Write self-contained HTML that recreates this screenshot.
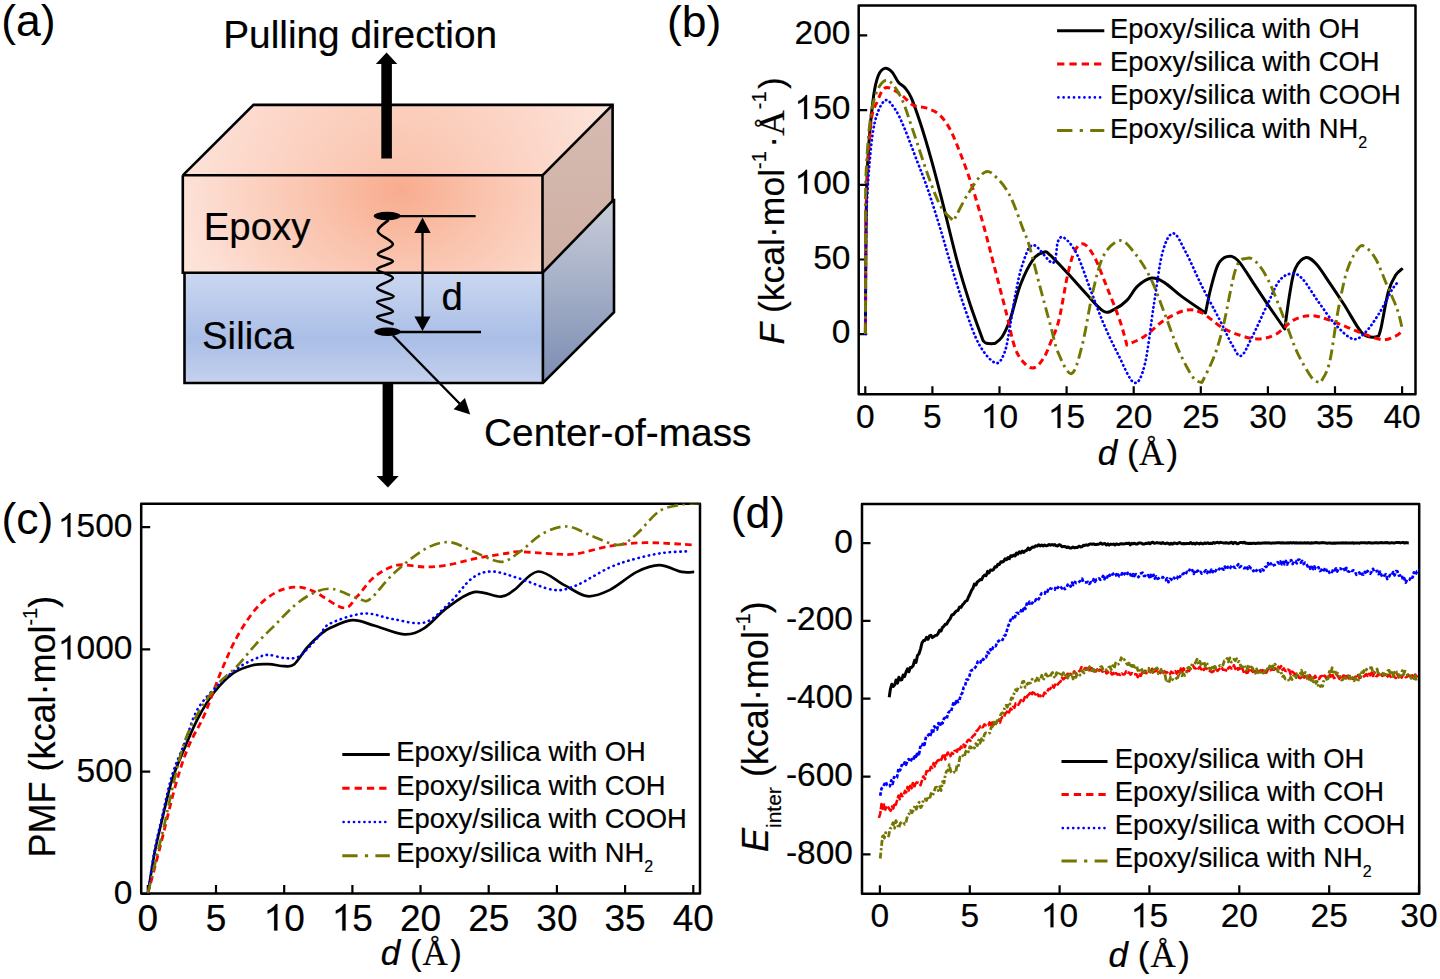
<!DOCTYPE html>
<html><head><meta charset="utf-8"><title>Figure</title>
<style>html,body{margin:0;padding:0;background:#fff;width:1440px;height:979px;overflow:hidden}
svg{display:block} text{font-family:"Liberation Sans", sans-serif}</style></head>
<body><svg width="1440" height="979" viewBox="0 0 1440 979">
<rect width="1440" height="979" fill="#fff"/>
<defs>
<radialGradient id="epF" cx="400" cy="190" r="220" gradientUnits="userSpaceOnUse" gradientTransform="translate(400 190) scale(1 0.8) translate(-400 -190)">
  <stop offset="0" stop-color="#f8ac8e"/>
  <stop offset="0.4" stop-color="#fac4ae"/>
  <stop offset="1" stop-color="#fde2d8"/>
</radialGradient>
<radialGradient id="epT" cx="400" cy="200" r="260" gradientUnits="userSpaceOnUse">
  <stop offset="0" stop-color="#f9c0a8"/>
  <stop offset="0.5" stop-color="#fcd4c5"/>
  <stop offset="1" stop-color="#fde9e2"/>
</radialGradient>
<linearGradient id="epR" x1="0" y1="0" x2="0" y2="1">
  <stop offset="0" stop-color="#d6bbb1"/>
  <stop offset="1" stop-color="#cfafa4"/>
</linearGradient>
<linearGradient id="siF" x1="0" y1="273" x2="0" y2="383" gradientUnits="userSpaceOnUse">
  <stop offset="0" stop-color="#cad7f0"/>
  <stop offset="0.6" stop-color="#aabee6"/>
  <stop offset="1" stop-color="#c4d1ee"/>
</linearGradient>
<linearGradient id="siR" x1="0" y1="200" x2="0" y2="383" gradientUnits="userSpaceOnUse">
  <stop offset="0" stop-color="#c9cdd9"/>
  <stop offset="1" stop-color="#7b8db3"/>
</linearGradient>
</defs>
<polygon points="184.5,272.7 542.7,272.7 613.3,200 614,200 614,312.2 542.9,383 184.5,383" fill="url(#siF)"/>
<polygon points="542.7,272.7 613.3,200 614,200 614,312.2 542.9,383" fill="url(#siR)"/>
<polygon points="182.8,175.3 542.5,175.3 542.5,272.7 182.8,272.7" fill="url(#epF)"/>
<polygon points="182.8,175.3 253.5,104.9 612.6,104.9 542.5,175.3" fill="url(#epT)"/>
<polygon points="542.5,175.3 612.6,104.9 612.6,200.7 542.7,272.7" fill="url(#epR)"/>
<g fill="none" stroke="#000" stroke-width="2.6" stroke-linejoin="miter">
<polyline points="182.8,175.3 253.5,104.9 612.6,104.9 612.6,200.7"/>
<line x1="182.8" y1="175.3" x2="542.5" y2="175.3"/>
<line x1="542.5" y1="175.3" x2="612.6" y2="104.9"/>
<line x1="542.5" y1="175.3" x2="542.5" y2="272.7"/>
<polyline points="182.8,175.3 182.8,272.7 184.5,272.7 184.5,383 542.9,383 614,312.2 614,200 613.3,200 542.7,272.7 182.8,272.7"/>
<line x1="542.9" y1="272.7" x2="542.9" y2="383"/>
</g>
<rect x="381.3" y="62" width="10.6" height="96.5" fill="#000"/>
<polygon points="386.6,52.5 375.8,64 397.3,64" fill="#000"/>
<rect x="382.6" y="383" width="10.6" height="94" fill="#000"/>
<polygon points="387.9,487.5 376.6,476 398.7,476" fill="#000"/>
<path d="M388.6,220.0 C386.8,221.9 377.2,227.3 377.9,231.4 C378.6,235.5 392.9,240.5 392.9,244.3 C392.9,248.1 377.9,251.5 377.9,254.3 C377.9,257.1 393.0,258.9 392.9,261.4 C392.8,263.9 377.1,266.6 377.1,269.3 C377.1,272.1 392.9,274.8 392.9,277.9 C392.9,281.0 377.0,284.8 377.1,287.9 C377.2,291.0 393.6,294.0 393.6,296.4 C393.6,298.8 377.2,299.6 377.1,302.1 C377.0,304.6 392.9,308.9 392.9,311.4 C392.9,313.9 377.0,315.0 377.1,317.1 C377.2,319.2 390.9,323.1 393.6,324.3" fill="none" stroke="#000" stroke-width="2.6"/>
<ellipse cx="387.2" cy="216" rx="13.5" ry="4.2" fill="#000"/>
<ellipse cx="387.5" cy="331.7" rx="13.2" ry="4.2" fill="#000"/>
<line x1="398" y1="216.1" x2="475.6" y2="216.1" stroke="#000" stroke-width="2.3"/>
<line x1="398" y1="332" x2="481" y2="332" stroke="#000" stroke-width="2.3"/>
<line x1="422.5" y1="228" x2="422.5" y2="320" stroke="#000" stroke-width="2.3"/>
<polygon points="422.5,217.5 414.4,233 430.6,233" fill="#000"/>
<polygon points="422.5,331 414.4,316.4 430.6,316.4" fill="#000"/>
<line x1="393" y1="335.5" x2="462" y2="406" stroke="#000" stroke-width="2.4"/>
<polygon points="470.2,414.5 453.6,409.2 464.9,397.9" fill="#000"/>
<g font-family='"Liberation Sans", sans-serif' fill="#000" stroke="#000" stroke-width="0.2">
<text x="1.3" y="35.6" font-size="44.5" stroke-width="0">(a)</text>
<text x="223.2" y="47.5" font-size="38.8" >Pulling direction</text>
<text x="203.7" y="240.2" font-size="38.4" >Epoxy</text>
<text x="202.0" y="349.0" font-size="38.4" >Silica</text>
<text x="441.5" y="309.5" font-size="38.4" >d</text>
<text x="484.1" y="445.7" font-size="38.8" >Center-of-mass</text>
</g>
<rect x="858.7" y="5.5" width="556.8" height="388.7" fill="none" stroke="#000" stroke-width="2.5" stroke-linejoin="round"/>
<path d="M865.3,394.2 L865.3,386.2 M932.4,394.2 L932.4,386.2 M999.5,394.2 L999.5,386.2 M1066.6,394.2 L1066.6,386.2 M1133.7,394.2 L1133.7,386.2 M1200.8,394.2 L1200.8,386.2 M1267.9,394.2 L1267.9,386.2 M1335.0,394.2 L1335.0,386.2 M1402.1,394.2 L1402.1,386.2 M858.7,334.2 L867.2,334.2 M858.7,259.5 L867.2,259.5 M858.7,184.8 L867.2,184.8 M858.7,110.1 L867.2,110.1 M858.7,35.4 L867.2,35.4" stroke="#000" stroke-width="2.2" fill="none"/>
<g font-family='"Liberation Sans", sans-serif' fill="#000" stroke="#000" stroke-width="0.2">
<text x="855.98" y="428.0" font-size="33.5">0</text>
<text x="923.08" y="428.0" font-size="33.5">5</text>
<text x="980.87" y="428.0" font-size="33.5"> 0</text>
<polygon points="990.41,428.00 990.41,409.24 989.34,410.25 987.58,411.28 985.86,412.26 984.52,412.79 984.52,409.94 986.92,408.78 989.70,406.74 991.44,404.94 991.99,404.02 993.35,404.02 993.35,428.00"/>
<text x="1047.97" y="428.0" font-size="33.5"> 5</text>
<polygon points="1057.51,428.00 1057.51,409.24 1056.44,410.25 1054.68,411.28 1052.96,412.26 1051.62,412.79 1051.62,409.94 1054.02,408.78 1056.80,406.74 1058.54,404.94 1059.09,404.02 1060.45,404.02 1060.45,428.00"/>
<text x="1115.07" y="428.0" font-size="33.5">20</text>
<text x="1182.17" y="428.0" font-size="33.5">25</text>
<text x="1249.27" y="428.0" font-size="33.5">30</text>
<text x="1316.37" y="428.0" font-size="33.5">35</text>
<text x="1383.47" y="428.0" font-size="33.5">40</text>
<text x="831.87" y="343.2" font-size="33.5">0</text>
<text x="813.24" y="268.5" font-size="33.5">50</text>
<text x="794.61" y="193.8" font-size="33.5"> 00</text>
<polygon points="804.14,193.80 804.14,175.04 803.08,176.05 801.31,177.08 799.60,178.06 798.25,178.59 798.25,175.74 800.66,174.58 803.44,172.54 805.17,170.74 805.73,169.82 807.09,169.82 807.09,193.80"/>
<text x="794.61" y="119.1" font-size="33.5"> 50</text>
<polygon points="804.14,119.10 804.14,100.34 803.08,101.35 801.31,102.38 799.60,103.36 798.25,103.89 798.25,101.04 800.66,99.88 803.44,97.84 805.17,96.04 805.73,95.12 807.09,95.12 807.09,119.10"/>
<text x="794.61" y="44.4" font-size="33.5">200</text>
<text x="667.0" y="36.8" font-size="44.5" stroke-width="0">(b)</text>
<text x="1097.75" y="465.4" font-size="35"><tspan font-style="italic">d</tspan> (<tspan font-family='"Liberation Serif", serif' dx="0.5">Å</tspan><tspan dx="2">)</tspan></text>
<text transform="translate(783.5 344.5) rotate(-90)" font-size="35.5"><tspan font-style="italic">F</tspan> (kcal·mol<tspan font-size="20" dy="-18">-1</tspan><tspan dy="18" dx="3.5">·</tspan><tspan font-family='"Liberation Serif", serif'>Å</tspan><tspan font-size="20" dy="-18" dx="1">-1</tspan><tspan dy="18" dx="2.5">)</tspan></text>
<path d="M1057.1,30.7 L1104.3,30.7" fill="none" stroke="#000000" stroke-width="3" stroke-linejoin="round" />
<text x="1110.1" y="37.9" font-size="27.4" >Epoxy/silica with OH</text>
<path d="M1057.1,64 L1104.3,64" fill="none" stroke="#ff0000" stroke-width="3" stroke-linejoin="round" stroke-dasharray="7.3,5" stroke-linecap="butt" />
<text x="1110.1" y="71.4" font-size="27.4" >Epoxy/silica with COH</text>
<path d="M1058.3999999999999,97.4 L1104.3,97.4" fill="none" stroke="#0000ff" stroke-width="2.7" stroke-linejoin="round" stroke-dasharray="0.01,5.2" stroke-linecap="round" />
<text x="1110.1" y="104.3" font-size="27.4" >Epoxy/silica with COOH</text>
<path d="M1057.1,130.4 L1104.3,130.4" fill="none" stroke="#737600" stroke-width="3" stroke-linejoin="round" stroke-dasharray="15.3,7.3,3.2,7.3" stroke-linecap="butt" />
<text x="1110.1" y="137.9" font-size="27.4" >Epoxy/silica with NH<tspan font-size="16" dy="10">2</tspan></text>
</g>
<clipPath id="clipb"><rect x="858.7" y="5.5" width="556.8" height="388.7"/></clipPath>
<g clip-path="url(#clipb)">
<path d="M865.4,334.0 C865.5,321.7 865.6,284.0 865.8,260.0 C866.0,236.0 866.1,209.7 866.6,190.0 C867.1,170.3 867.8,157.6 869.0,141.9 C870.2,126.2 872.1,107.0 873.6,96.0 C875.1,85.0 876.4,80.3 878.2,75.7 C880.1,71.1 882.4,69.0 884.7,68.4 C887.0,67.8 889.7,69.7 892.0,72.0 C894.3,74.3 896.2,79.6 898.4,82.2 C900.5,84.8 902.8,85.1 904.9,87.7 C907.0,90.3 908.7,91.8 911.3,97.8 C913.9,103.8 917.1,113.1 920.5,123.5 C923.9,133.9 927.8,147.1 931.5,160.3 C935.2,173.5 938.2,185.2 942.6,202.6 C947.0,220.0 953.4,247.5 958.1,264.7 C962.8,281.9 966.5,293.2 970.6,305.8 C974.8,318.4 980.9,334.7 983.0,340.5 C983.6,341.0 984.6,342.8 986.5,343.3 C988.4,343.8 993.2,343.6 994.5,343.6 C995.8,342.5 999.4,340.9 1002.0,337.0 C1004.6,333.1 1006.8,328.9 1009.9,320.1 C1013.0,311.3 1016.7,294.4 1020.6,284.3 C1024.5,274.2 1029.3,264.7 1033.2,259.3 C1037.1,254.0 1041.1,252.9 1043.9,252.2 C1046.7,251.5 1046.0,251.3 1050.0,254.9 C1054.0,258.5 1062.0,267.2 1067.9,273.6 C1073.9,280.0 1079.8,287.0 1085.7,293.3 C1091.7,299.6 1098.8,308.5 1103.6,311.2 C1108.4,313.9 1110.4,311.2 1114.3,309.4 C1118.2,307.6 1123.0,304.3 1126.9,300.4 C1130.8,296.5 1133.4,289.8 1137.6,286.1 C1141.8,282.4 1147.4,278.7 1151.9,278.1 C1156.4,277.5 1159.3,279.5 1164.4,282.6 C1169.5,285.7 1175.5,291.8 1182.3,296.9 C1189.1,301.9 1201.6,310.2 1205.5,312.9 C1206.4,308.7 1208.8,295.9 1210.9,287.9 C1213.0,279.9 1215.3,269.9 1218.0,264.7 C1220.7,259.5 1223.6,257.4 1226.9,256.6 C1230.2,255.9 1233.1,255.6 1237.7,260.2 C1242.3,264.8 1249.2,276.8 1254.3,284.4 C1259.4,292.0 1263.5,298.4 1268.6,305.8 C1273.7,313.2 1282.0,325.1 1284.7,329.0 C1285.6,322.8 1288.3,301.6 1290.1,291.5 C1291.9,281.4 1292.7,274.0 1295.4,268.3 C1298.1,262.6 1302.5,258.1 1306.1,257.5 C1309.7,256.9 1313.0,260.5 1316.9,264.7 C1320.8,268.9 1324.9,276.1 1329.4,282.6 C1333.9,289.2 1338.3,295.7 1343.7,304.0 C1349.1,312.3 1356.8,327.1 1361.6,332.6 C1366.4,338.1 1369.7,336.6 1372.5,337.2 C1375.3,337.8 1377.6,336.2 1378.6,336.0 C1379.0,334.6 1379.6,334.7 1381.2,327.3 C1382.8,319.9 1386.0,300.1 1388.4,291.5 C1390.8,282.9 1393.1,279.3 1395.5,275.4 C1397.9,271.5 1401.5,269.5 1402.7,268.3" fill="none" stroke="#000000" stroke-width="3" stroke-linejoin="round" />
<path d="M865.4,334.0 C865.5,321.7 865.6,282.3 865.8,260.0 C866.0,237.7 865.6,222.8 866.5,200.0 C867.4,177.2 869.1,139.9 870.9,123.5 C872.7,107.1 874.8,107.5 877.3,101.5 C879.8,95.5 881.8,88.9 885.6,87.7 C889.4,86.5 895.7,91.2 900.3,94.1 C904.9,97.0 908.8,102.8 913.1,105.1 C917.4,107.4 921.7,106.4 926.0,107.9 C930.3,109.4 934.9,110.8 938.9,114.3 C942.9,117.8 946.2,122.2 949.9,129.0 C953.6,135.8 957.2,145.3 960.9,154.8 C964.6,164.3 968.0,173.5 972.0,186.0 C976.0,198.5 981.2,216.9 984.8,230.0 C988.4,243.1 990.2,250.9 993.8,264.7 C997.4,278.5 1002.7,298.9 1006.3,312.9 C1009.9,326.9 1012.0,340.0 1015.3,348.7 C1018.6,357.4 1022.7,361.7 1026.0,364.8 C1029.3,367.9 1031.9,368.7 1034.9,367.5 C1037.9,366.3 1041.2,361.9 1043.9,357.6 C1046.6,353.3 1048.5,347.8 1051.0,341.5 C1053.5,335.2 1056.1,331.4 1058.9,320.1 C1061.7,308.8 1065.2,285.2 1067.9,273.6 C1070.6,262.0 1072.3,255.3 1075.0,250.4 C1077.7,245.5 1080.7,242.9 1084.0,244.1 C1087.3,245.3 1090.8,250.2 1094.7,257.5 C1098.6,264.8 1103.0,277.5 1107.2,287.9 C1111.4,298.3 1116.4,310.6 1119.7,320.1 C1123.0,329.6 1125.7,340.9 1126.9,345.1 C1129.9,343.6 1138.5,340.4 1144.7,336.2 C1151.0,332.0 1157.6,324.4 1164.4,320.1 C1171.2,315.8 1179.5,311.5 1185.8,310.3 C1192.0,309.1 1195.9,310.1 1201.9,312.9 C1207.9,315.7 1215.2,323.5 1221.6,327.2 C1227.9,330.9 1234.0,333.4 1240.0,335.3 C1246.0,337.2 1251.9,339.0 1257.9,338.9 C1263.9,338.8 1269.8,337.5 1275.8,334.4 C1281.8,331.3 1287.6,323.2 1293.6,320.1 C1299.5,317.0 1305.5,315.6 1311.5,315.6 C1317.5,315.6 1323.4,318.2 1329.4,320.1 C1335.4,322.1 1341.3,324.9 1347.3,327.3 C1353.2,329.7 1359.1,332.3 1365.1,334.4 C1371.0,336.5 1377.9,339.5 1383.0,339.8 C1388.1,340.1 1392.2,337.7 1395.5,336.2 C1398.8,334.7 1401.5,331.7 1402.7,330.8" fill="none" stroke="#ff0000" stroke-width="3" stroke-linejoin="round" stroke-dasharray="6.5,4.3" stroke-linecap="butt" />
<path d="M865.4,334.0 C865.5,321.7 865.6,279.8 865.8,260.0 C866.0,240.2 866.0,230.1 866.5,215.0 C867.0,199.9 867.7,184.8 869.0,169.5 C870.3,154.2 871.9,135.0 874.5,123.5 C877.1,112.0 881.3,103.0 884.7,100.6 C888.1,98.1 891.6,104.4 894.8,108.8 C898.0,113.2 900.3,118.6 904.0,127.2 C907.7,135.8 912.8,149.9 916.8,160.3 C920.8,170.7 923.9,178.1 927.9,189.7 C931.9,201.3 936.9,217.5 940.7,230.0 C944.5,242.5 946.8,251.5 950.9,264.7 C955.0,277.9 960.4,296.0 965.2,309.4 C970.0,322.8 974.4,336.2 979.5,345.1 C984.6,354.0 991.4,361.8 995.6,363.0 C999.8,364.2 1002.2,358.3 1004.6,352.3 C1007.0,346.3 1008.1,336.7 1009.9,327.2 C1011.7,317.7 1013.2,305.5 1015.3,295.1 C1017.4,284.7 1019.4,273.1 1022.4,264.7 C1025.4,256.3 1028.1,245.3 1033.2,245.0 C1038.3,244.7 1048.7,263.5 1052.8,262.9 C1056.9,262.3 1056.1,245.6 1058.0,241.4 C1059.9,237.2 1061.2,235.8 1064.3,237.9 C1067.4,240.0 1072.3,245.1 1076.8,254.0 C1081.3,262.9 1086.6,279.9 1091.1,291.5 C1095.6,303.1 1099.1,313.3 1103.6,323.7 C1108.1,334.1 1112.8,344.2 1117.9,354.0 C1123.0,363.8 1129.5,380.8 1134.0,382.6 C1138.5,384.4 1141.4,377.6 1144.7,364.8 C1148.0,352.0 1150.7,324.6 1153.7,305.8 C1156.7,287.0 1159.3,264.3 1162.6,252.2 C1165.9,240.1 1169.4,233.4 1173.3,233.4 C1177.2,233.4 1181.0,243.4 1185.8,252.2 C1190.6,261.0 1196.2,274.8 1201.9,286.1 C1207.6,297.4 1214.7,310.3 1219.8,320.1 C1224.9,329.9 1228.7,339.2 1232.3,345.1 C1235.9,351.1 1237.8,357.3 1241.2,355.8 C1244.6,354.3 1248.2,344.5 1252.5,336.2 C1256.8,327.9 1262.3,315.0 1266.8,305.8 C1271.3,296.6 1275.1,286.2 1279.3,280.8 C1283.5,275.4 1287.9,273.9 1291.8,273.6 C1295.7,273.3 1298.1,274.2 1302.6,279.0 C1307.1,283.8 1313.3,294.8 1318.7,302.2 C1324.1,309.6 1329.1,317.6 1334.7,323.7 C1340.3,329.8 1347.5,337.4 1352.6,338.9 C1357.7,340.4 1360.6,336.9 1365.1,332.6 C1369.6,328.3 1374.9,320.1 1379.4,313.0 C1383.9,305.9 1388.7,295.1 1392.0,289.7 C1395.3,284.3 1397.9,282.3 1399.1,280.8" fill="none" stroke="#0000ff" stroke-width="2.7" stroke-linejoin="round" stroke-dasharray="0.4,4.0" stroke-linecap="round" />
<path d="M865.4,334.0 C865.4,320.0 865.5,277.3 865.6,250.0 C865.7,222.7 865.0,194.2 866.2,170.0 C867.4,145.8 869.5,120.0 872.7,105.1 C875.9,90.1 881.0,81.8 885.6,80.3 C890.2,78.8 895.7,87.6 900.3,96.0 C904.9,104.4 908.5,117.7 913.1,130.9 C917.7,144.1 923.3,162.4 927.9,175.0 C932.5,187.6 936.4,198.6 940.7,206.3 C945.0,214.0 951.5,218.6 953.6,221.0 C956.0,216.4 963.1,201.5 968.3,193.4 C973.5,185.3 979.9,174.6 984.8,172.2 C989.7,169.8 993.4,174.6 997.7,178.7 C1002.0,182.8 1006.3,188.4 1010.6,197.0 C1014.9,205.6 1020.2,221.7 1023.4,230.0 C1026.6,238.3 1026.8,237.2 1029.6,246.8 C1032.4,256.4 1036.7,274.5 1040.3,287.9 C1043.9,301.3 1048.0,316.5 1051.0,327.2 C1054.0,337.9 1054.6,344.6 1058.0,352.3 C1061.4,360.1 1067.4,374.9 1071.4,373.7 C1075.4,372.5 1078.6,358.8 1082.2,345.1 C1085.8,331.4 1089.3,306.4 1092.9,291.5 C1096.5,276.6 1099.1,264.2 1103.6,255.7 C1108.1,247.2 1114.6,241.2 1119.7,240.6 C1124.8,240.0 1128.9,246.1 1134.0,252.2 C1139.1,258.3 1145.0,267.1 1150.1,277.2 C1155.2,287.3 1159.6,300.7 1164.4,312.9 C1169.2,325.1 1173.9,339.8 1178.7,350.5 C1183.5,361.2 1189.1,371.9 1193.0,377.3 C1196.9,382.7 1200.4,381.7 1201.9,382.6 C1204.0,378.1 1210.8,365.3 1214.4,355.8 C1218.0,346.3 1219.8,340.1 1223.4,325.5 C1227.0,310.9 1232.0,279.5 1235.9,268.3 C1239.8,257.1 1243.2,259.4 1246.6,258.4 C1250.0,257.3 1252.4,258.3 1256.1,262.0 C1259.8,265.7 1263.8,271.1 1268.6,280.8 C1273.4,290.5 1279.9,308.2 1284.7,320.1 C1289.5,332.0 1292.7,342.8 1297.2,352.3 C1301.7,361.8 1307.6,372.2 1311.5,377.3 C1315.4,382.4 1318.9,381.8 1320.4,382.7 C1321.9,379.4 1326.4,375.2 1329.4,363.0 C1332.4,350.8 1335.3,324.9 1338.3,309.4 C1341.3,293.9 1344.0,280.1 1347.3,270.0 C1350.6,259.9 1355.0,252.5 1358.0,248.6 C1361.0,244.7 1362.1,245.0 1365.1,246.8 C1368.1,248.6 1372.3,253.0 1375.9,259.3 C1379.5,265.6 1383.0,276.0 1386.6,284.4 C1390.2,292.8 1394.6,301.7 1397.3,309.4 C1400.0,317.1 1401.8,327.2 1402.7,330.8" fill="none" stroke="#737600" stroke-width="2.9" stroke-linejoin="round" stroke-dasharray="11,4.5,2.5,4.5" stroke-linecap="butt" />
</g>
<rect x="141.2" y="503.7" width="558.8" height="389.8" fill="none" stroke="#000" stroke-width="2.5" stroke-linejoin="round"/>
<path d="M147.8,893.5 L147.8,885.0 M216.0,893.5 L216.0,885.0 M284.2,893.5 L284.2,885.0 M352.4,893.5 L352.4,885.0 M420.5,893.5 L420.5,885.0 M488.7,893.5 L488.7,885.0 M556.9,893.5 L556.9,885.0 M625.1,893.5 L625.1,885.0 M693.3,893.5 L693.3,885.0 M141.2,894.0 L150.2,894.0 M141.2,771.7 L150.2,771.7 M141.2,649.4 L150.2,649.4 M141.2,527.1 L150.2,527.1" stroke="#000" stroke-width="2.2" fill="none"/>
<g font-family='"Liberation Sans", sans-serif' fill="#000" stroke="#000" stroke-width="0.2">
<text x="137.51" y="930.5" font-size="37">0</text>
<text x="205.70" y="930.5" font-size="37">5</text>
<text x="263.59" y="930.5" font-size="37"> 0</text>
<polygon points="274.13,930.50 274.13,909.78 272.95,910.90 271.00,912.04 269.10,913.12 267.62,913.70 267.62,910.55 270.28,909.27 273.35,907.01 275.26,905.03 275.88,904.01 277.38,904.01 277.38,930.50"/>
<text x="331.78" y="930.5" font-size="37"> 5</text>
<polygon points="342.31,930.50 342.31,909.78 341.14,910.90 339.18,912.04 337.29,913.12 335.81,913.70 335.81,910.55 338.46,909.27 341.53,907.01 343.45,905.03 344.06,904.01 345.56,904.01 345.56,930.50"/>
<text x="399.96" y="930.5" font-size="37">20</text>
<text x="468.15" y="930.5" font-size="37">25</text>
<text x="536.33" y="930.5" font-size="37">30</text>
<text x="604.52" y="930.5" font-size="37">35</text>
<text x="672.70" y="930.5" font-size="37">40</text>
<text x="113.87" y="904.0" font-size="33.5">0</text>
<text x="76.61" y="781.7" font-size="33.5">500</text>
<text x="57.98" y="659.4" font-size="33.5"> 000</text>
<polygon points="67.51,659.40 67.51,640.64 66.45,641.65 64.68,642.68 62.96,643.66 61.62,644.19 61.62,641.34 64.03,640.18 66.81,638.14 68.54,636.34 69.10,635.42 70.46,635.42 70.46,659.40"/>
<text x="57.98" y="537.1" font-size="33.5"> 500</text>
<polygon points="67.51,537.10 67.51,518.34 66.45,519.35 64.68,520.38 62.96,521.36 61.62,521.89 61.62,519.04 64.03,517.88 66.81,515.84 68.54,514.04 69.10,513.12 70.46,513.12 70.46,537.10"/>
<text x="1.4" y="533.5" font-size="44.5" stroke-width="0">(c)</text>
<text x="380.7" y="965.4" font-size="35"><tspan font-style="italic">d</tspan> (<tspan font-family='"Liberation Serif", serif' dx="1">Å</tspan><tspan dx="2.5">)</tspan></text>
<text transform="translate(55 857.6) rotate(-90)" font-size="36">PMF (kcal·mol<tspan font-size="20" dy="-18">-1</tspan><tspan dy="18">)</tspan></text>
<path d="M342.3,754.5 L389.8,754.5" fill="none" stroke="#000000" stroke-width="3" stroke-linejoin="round" />
<text x="396.2" y="761.4" font-size="27.4" >Epoxy/silica with OH</text>
<path d="M342.3,788.2 L389.8,788.2" fill="none" stroke="#ff0000" stroke-width="3" stroke-linejoin="round" stroke-dasharray="7.3,5" stroke-linecap="butt" />
<text x="396.2" y="795.1" font-size="27.4" >Epoxy/silica with COH</text>
<path d="M343.6,822 L389.8,822" fill="none" stroke="#0000ff" stroke-width="2.7" stroke-linejoin="round" stroke-dasharray="0.01,5.2" stroke-linecap="round" />
<text x="396.2" y="828.1" font-size="27.4" >Epoxy/silica with COOH</text>
<path d="M342.3,855.7 L389.8,855.7" fill="none" stroke="#737600" stroke-width="3" stroke-linejoin="round" stroke-dasharray="15.3,7.3,3.2,7.3" stroke-linecap="butt" />
<text x="396.2" y="861.8" font-size="27.4" >Epoxy/silica with NH<tspan font-size="16" dy="10">2</tspan></text>
</g>
<clipPath id="clipc"><rect x="141.2" y="503.7" width="558.8" height="389.8"/></clipPath>
<g clip-path="url(#clipc)">
<path d="M148.0,893.0 C149.1,886.4 152.1,865.8 154.5,853.3 C156.9,840.8 159.6,830.3 162.5,818.0 C165.4,805.7 168.4,791.2 172.2,779.4 C175.9,767.6 180.7,757.4 185.0,747.2 C189.3,737.0 193.1,727.4 197.9,718.3 C202.7,709.2 208.1,700.0 214.0,692.5 C219.9,685.0 226.8,677.8 233.2,673.2 C239.6,668.7 246.6,666.7 252.5,665.2 C258.4,663.7 263.2,664.0 268.6,664.2 C274.0,664.4 280.4,666.2 284.7,666.2 C289.0,666.2 290.6,667.3 294.3,664.2 C298.1,661.1 302.9,652.4 307.2,647.5 C311.5,642.6 316.3,637.9 320.1,634.7 C323.9,631.5 324.6,630.5 330.0,628.1 C335.4,625.7 345.0,620.6 352.5,620.2 C360.0,619.8 366.3,623.4 374.9,625.8 C383.5,628.2 395.9,634.0 404.2,634.4 C412.4,634.8 417.3,632.5 424.4,628.1 C431.5,623.7 438.7,613.9 446.9,607.9 C455.1,601.9 464.8,594.0 473.8,592.1 C482.8,590.2 494.1,597.0 500.8,596.6 C507.6,596.2 508.1,594.1 514.3,589.9 C520.5,585.7 529.6,572.2 538.0,571.5 C546.4,570.8 556.7,581.3 564.9,585.4 C573.1,589.5 579.9,595.5 587.4,596.2 C594.9,597.0 601.6,594.0 609.9,589.9 C618.1,585.8 628.7,576.0 636.9,571.9 C645.1,567.8 651.8,565.2 659.3,565.2 C666.8,565.2 676.0,570.8 681.8,571.9 C687.6,573.0 692.1,571.9 694.2,571.9" fill="none" stroke="#000000" stroke-width="2.7" stroke-linejoin="round" />
<path d="M148.0,893.0 C149.9,885.9 154.7,868.0 159.3,850.1 C163.9,832.2 170.6,802.9 175.4,785.8 C180.2,768.6 183.4,759.0 188.2,747.2 C193.0,735.4 198.9,727.3 204.3,715.0 C209.7,702.7 215.0,686.1 220.4,673.2 C225.8,660.4 230.6,648.6 236.5,637.9 C242.4,627.2 249.4,616.4 255.8,608.9 C262.2,601.4 268.6,596.5 275.0,592.9 C281.4,589.3 287.9,587.4 294.3,587.1 C300.7,586.8 305.4,587.8 313.6,591.3 C321.8,594.8 336.3,607.0 343.5,607.9 C350.7,608.8 351.8,601.9 357.0,596.6 C362.2,591.4 368.2,581.6 374.9,576.4 C381.6,571.2 389.1,566.8 397.4,565.2 C405.6,563.6 416.1,567.0 424.4,567.0 C432.6,567.0 438.7,566.6 446.9,565.2 C455.1,563.9 464.1,560.9 473.8,558.9 C483.5,556.9 497.6,554.7 505.3,553.5 C513.0,552.3 511.9,551.6 520.0,551.7 C528.1,551.8 544.3,553.5 553.7,553.9 C563.1,554.3 566.8,555.2 576.2,553.9 C585.6,552.6 598.3,548.0 609.9,546.1 C621.5,544.2 631.9,542.9 645.8,542.7 C659.6,542.5 685.1,544.5 693.0,544.9" fill="none" stroke="#ff0000" stroke-width="2.8" stroke-linejoin="round" stroke-dasharray="6.5,4.3" stroke-linecap="butt" />
<path d="M148.0,893.0 C149.1,886.0 152.1,864.0 154.5,851.0 C156.9,838.0 159.6,827.7 162.5,815.0 C165.4,802.3 168.4,787.2 172.2,775.0 C175.9,762.8 180.7,753.1 185.0,742.0 C189.3,730.9 192.0,718.5 197.9,708.6 C203.8,698.8 213.4,689.9 220.4,682.9 C227.4,675.9 233.3,671.1 239.7,666.8 C246.1,662.5 254.2,659.2 259.0,657.2 C263.8,655.2 264.3,654.8 268.6,654.9 C272.9,655.0 279.9,657.7 284.7,658.1 C289.5,658.5 293.9,658.7 297.6,657.2 C301.4,655.7 303.4,652.9 307.2,649.1 C310.9,645.4 316.3,639.0 320.1,634.7 C323.9,630.5 322.7,627.1 330.0,623.6 C337.3,620.1 353.2,614.2 363.7,613.5 C374.2,612.8 382.8,617.6 392.9,619.1 C403.0,620.6 415.0,625.1 424.4,622.5 C433.8,619.9 441.2,610.7 449.1,603.4 C457.0,596.1 464.5,584.0 471.6,578.7 C478.7,573.4 483.7,571.5 491.8,571.5 C499.9,571.5 509.7,575.6 520.0,578.7 C530.3,581.8 544.3,588.8 553.7,589.9 C563.1,591.0 566.8,589.1 576.2,585.4 C585.6,581.6 599.8,571.9 609.9,567.4 C620.0,562.9 627.9,560.8 636.9,558.4 C645.9,556.0 654.8,554.0 663.8,552.8 C672.8,551.6 686.3,551.5 690.8,551.2" fill="none" stroke="#0000ff" stroke-width="2.6" stroke-linejoin="round" stroke-dasharray="0.4,4.9" stroke-linecap="round" />
<path d="M148.0,893.0 C150.3,883.3 155.8,860.4 162.0,835.0 C168.2,809.6 176.3,765.1 185.0,740.8 C193.7,716.5 205.4,701.6 214.0,689.3 C222.6,677.0 229.5,674.3 236.5,666.8 C243.5,659.3 249.4,651.3 255.8,644.3 C262.2,637.3 268.6,631.4 275.0,625.0 C281.4,618.6 287.9,611.1 294.3,605.7 C300.7,600.4 307.2,595.7 313.6,592.9 C320.0,590.1 325.3,588.0 332.9,589.0 C340.5,590.0 352.9,597.2 359.2,598.9 C365.4,600.5 364.8,603.0 370.4,598.9 C376.0,594.8 383.9,582.5 392.9,574.2 C401.9,566.0 415.0,554.7 424.4,549.4 C433.8,544.1 440.9,541.8 449.1,542.2 C457.3,542.6 465.2,548.4 473.8,551.7 C482.4,555.0 493.1,561.8 500.8,561.8 C508.5,561.8 513.0,556.4 520.0,551.7 C527.0,547.0 534.6,537.9 542.5,533.7 C550.4,529.5 559.0,526.1 567.2,526.5 C575.4,526.9 583.3,532.9 591.9,536.0 C600.5,539.1 611.4,545.3 618.9,544.9 C626.4,544.5 630.2,539.3 636.9,533.7 C643.6,528.1 651.8,516.1 659.3,511.2 C666.8,506.3 675.0,505.9 681.8,504.5 C688.6,503.1 697.0,503.2 700.0,503.0" fill="none" stroke="#737600" stroke-width="2.7" stroke-linejoin="round" stroke-dasharray="11,4.5,2.5,4.5" stroke-linecap="butt" />
</g>
<rect x="862" y="504" width="557.2" height="389.70000000000005" fill="none" stroke="#000" stroke-width="2.5" stroke-linejoin="round"/>
<path d="M879.9,893.7 L879.9,885.2 M969.8,893.7 L969.8,885.2 M1059.6,893.7 L1059.6,885.2 M1149.4,893.7 L1149.4,885.2 M1239.3,893.7 L1239.3,885.2 M1329.2,893.7 L1329.2,885.2 M1419.0,893.7 L1419.0,885.2 M862,854.4 L870.5,854.4 M862,776.6 L870.5,776.6 M862,698.7 L870.5,698.7 M862,620.9 L870.5,620.9 M862,543.1 L870.5,543.1" stroke="#000" stroke-width="2.2" fill="none"/>
<g font-family='"Liberation Sans", sans-serif' fill="#000" stroke="#000" stroke-width="0.2">
<text x="870.58" y="927.3" font-size="33.5">0</text>
<text x="960.43" y="927.3" font-size="33.5">5</text>
<text x="1040.97" y="927.3" font-size="33.5"> 0</text>
<polygon points="1050.51,927.30 1050.51,908.54 1049.44,909.55 1047.68,910.58 1045.96,911.56 1044.62,912.09 1044.62,909.24 1047.02,908.08 1049.80,906.04 1051.54,904.24 1052.09,903.32 1053.45,903.32 1053.45,927.30"/>
<text x="1130.82" y="927.3" font-size="33.5"> 5</text>
<polygon points="1140.36,927.30 1140.36,908.54 1139.29,909.55 1137.53,910.58 1135.81,911.56 1134.47,912.09 1134.47,909.24 1136.87,908.08 1139.65,906.04 1141.39,904.24 1141.94,903.32 1143.30,903.32 1143.30,927.30"/>
<text x="1220.67" y="927.3" font-size="33.5">20</text>
<text x="1310.52" y="927.3" font-size="33.5">25</text>
<text x="1400.37" y="927.3" font-size="33.5">30</text>
<text x="785.95" y="863.8" font-size="33.5">-800</text>
<text x="785.95" y="786.0" font-size="33.5">-600</text>
<text x="785.95" y="708.1" font-size="33.5">-400</text>
<text x="785.95" y="630.3" font-size="33.5">-200</text>
<text x="834.37" y="552.5" font-size="33.5">0</text>
<text x="730.8" y="528.0" font-size="44.5" stroke-width="0">(d)</text>
<text x="1108.6" y="966.7" font-size="35"><tspan font-style="italic">d</tspan> (<tspan font-family='"Liberation Serif", serif' dx="1">Å</tspan><tspan dx="2.5">)</tspan></text>
<text transform="translate(768 852) rotate(-90)" font-size="36"><tspan font-style="italic">E</tspan><tspan font-size="21" dy="12.6">inter</tspan><tspan dy="-12.6"> (kcal·mol</tspan><tspan font-size="20" dy="-18">-1</tspan><tspan dy="18">)</tspan></text>
<path d="M1061.5,761.5 L1107.5,761.5" fill="none" stroke="#000000" stroke-width="3" stroke-linejoin="round" />
<text x="1114.7" y="767.6" font-size="27.4" >Epoxy/silica with OH</text>
<path d="M1061.5,794.4 L1107.5,794.4" fill="none" stroke="#ff0000" stroke-width="3" stroke-linejoin="round" stroke-dasharray="7.3,5" stroke-linecap="butt" />
<text x="1114.7" y="800.5" font-size="27.4" >Epoxy/silica with COH</text>
<path d="M1062.8,828.1 L1107.5,828.1" fill="none" stroke="#0000ff" stroke-width="2.7" stroke-linejoin="round" stroke-dasharray="0.01,5.2" stroke-linecap="round" />
<text x="1114.7" y="834.3" font-size="27.4" >Epoxy/silica with COOH</text>
<path d="M1061.5,861.1 L1107.5,861.1" fill="none" stroke="#737600" stroke-width="3" stroke-linejoin="round" stroke-dasharray="15.3,7.3,3.2,7.3" stroke-linecap="butt" />
<text x="1114.7" y="867.2" font-size="27.4" >Epoxy/silica with NH<tspan font-size="16" dy="10">2</tspan></text>
</g>
<clipPath id="clipd"><rect x="862" y="504" width="557.2" height="389.70000000000005"/></clipPath>
<g clip-path="url(#clipd)">
<path d="M889.2,697.3 L890.4,689.1 L891.8,684.2 L893.2,686.5 L894.7,684.8 L896.1,680.0 L897.5,683.2 L898.9,677.3 L900.4,679.9 L901.8,679.7 L903.2,675.0 L904.6,676.6 L906.0,672.1 L907.5,668.8 L908.9,671.8 L910.3,667.5 L911.7,667.4 L913.2,665.5 L914.6,660.3 L916.0,662.5 L917.5,655.4 L919.0,653.7 L920.5,649.1 L922.0,642.8 L923.5,640.6 L925.0,640.4 L926.5,637.4 L928.0,639.4 L929.5,635.8 L930.9,635.3 L932.4,637.6 L933.9,636.6 L935.3,635.4 L936.7,635.3 L938.1,633.6 L939.5,630.2 L941.0,631.1 L942.4,627.5 L943.8,626.3 L945.2,624.3 L946.6,624.2 L948.4,621.0 L950.1,618.9 L951.9,614.9 L953.4,614.5 L955.0,612.4 L956.5,610.9 L958.0,610.5 L959.5,607.1 L961.0,607.4 L962.6,604.8 L964.1,603.2 L965.6,601.2 L967.0,600.7 L968.5,597.0 L970.0,594.0 L971.5,590.4 L972.9,588.4 L974.4,584.1 L975.9,585.0 L977.3,582.0 L978.8,580.9 L980.2,579.5 L981.7,579.7 L983.1,576.5 L984.6,575.0 L986.1,575.7 L987.6,571.4 L989.0,572.9 L990.5,569.9 L992.0,570.3 L993.5,569.6 L995.0,566.8 L996.5,567.0 L997.9,564.3 L999.4,564.4 L1000.9,561.7 L1002.3,562.1 L1003.7,561.3 L1005.1,558.7 L1006.6,559.7 L1008.0,557.6 L1009.4,558.7 L1010.8,555.7 L1012.2,556.4 L1013.6,555.1 L1015.1,556.0 L1016.5,553.0 L1017.9,554.1 L1019.3,551.7 L1020.8,553.0 L1022.3,551.1 L1023.7,552.4 L1025.2,550.9 L1026.7,550.3 L1028.2,548.1 L1029.7,549.6 L1031.2,548.2 L1032.6,547.0 L1034.1,547.2 L1035.6,545.7 L1037.1,546.2 L1038.6,544.7 L1040.1,545.9 L1041.6,545.0 L1043.1,546.0 L1044.5,545.0 L1046.0,545.8 L1047.5,545.5 L1049.0,544.5 L1050.5,545.2 L1052.0,544.6 L1053.4,545.2 L1054.9,544.6 L1056.3,545.8 L1057.7,545.9 L1059.1,544.7 L1060.6,545.2 L1062.0,546.7 L1063.6,546.4 L1065.1,546.6 L1066.7,547.5 L1068.2,547.0 L1069.8,548.1 L1071.4,548.0 L1072.9,547.0 L1074.5,547.8 L1076.0,547.5 L1077.5,547.4 L1079.0,546.2 L1080.5,546.9 L1082.0,546.7 L1083.4,545.2 L1084.9,545.4 L1086.4,544.8 L1087.9,545.3 L1089.4,544.3 L1090.9,543.9 L1092.3,544.3 L1093.7,543.9 L1095.1,544.6 L1096.5,544.5 L1097.9,544.2 L1099.3,544.1 L1100.7,543.0 L1102.2,544.2 L1103.6,543.8 L1105.0,543.6 L1106.4,545.0 L1107.8,543.8 L1109.2,545.1 L1110.6,544.1 L1112.0,544.4 L1113.4,544.1 L1114.8,545.0 L1116.2,543.9 L1117.6,544.3 L1119.0,544.5 L1120.4,543.8 L1121.9,543.7 L1123.3,544.1 L1124.7,543.8 L1126.1,543.3 L1127.5,543.5 L1128.9,543.1 L1130.3,544.8 L1131.7,543.3 L1133.1,543.8 L1134.5,543.2 L1135.9,544.1 L1137.3,544.0 L1138.7,542.9 L1140.2,543.1 L1141.6,543.3 L1143.0,544.1 L1144.4,544.1 L1145.8,543.2 L1147.2,543.5 L1148.6,542.7 L1150.0,543.8 L1151.4,542.6 L1152.8,542.2 L1154.2,543.2 L1155.6,543.0 L1157.0,542.6 L1158.5,543.0 L1159.9,542.9 L1161.3,543.5 L1162.7,542.5 L1164.1,543.4 L1165.5,543.7 L1166.9,543.0 L1168.3,543.4 L1169.7,544.2 L1171.1,543.3 L1172.5,544.1 L1174.0,543.0 L1175.4,543.2 L1176.8,543.7 L1178.2,543.3 L1179.6,542.5 L1181.0,543.3 L1182.4,543.8 L1183.8,543.5 L1185.2,543.7 L1186.6,543.5 L1188.0,543.5 L1189.4,543.5 L1190.8,542.6 L1192.3,543.8 L1193.7,543.2 L1195.1,544.1 L1196.5,543.0 L1197.9,543.4 L1199.3,543.9 L1200.7,543.0 L1202.1,543.7 L1203.5,543.7 L1204.9,542.9 L1206.3,543.5 L1207.8,542.8 L1209.2,543.6 L1210.6,543.2 L1212.0,543.6 L1213.4,542.5 L1214.8,543.2 L1216.2,542.6 L1217.6,542.3 L1219.0,543.0 L1220.4,542.3 L1221.8,542.6 L1223.2,542.9 L1224.7,543.1 L1226.1,542.7 L1227.5,543.0 L1228.9,543.3 L1230.3,542.7 L1231.7,542.3 L1233.1,543.6 L1234.5,542.4 L1235.9,542.8 L1237.3,543.8 L1238.7,543.4 L1240.1,542.4 L1241.5,542.4 L1243.0,542.9 L1244.4,542.2 L1245.8,543.3 L1247.2,543.2 L1248.6,543.5 L1250.0,543.3 L1251.4,543.5 L1252.8,543.3 L1254.2,543.2 L1255.6,543.4 L1257.0,543.2 L1258.4,543.1 L1259.8,543.2 L1261.2,543.2 L1262.6,542.9 L1264.1,543.0 L1265.5,542.8 L1266.9,543.1 L1268.3,542.8 L1269.7,543.1 L1271.1,543.2 L1272.5,543.1 L1273.9,543.1 L1275.3,543.1 L1276.7,542.8 L1278.1,542.8 L1279.5,542.7 L1280.9,543.0 L1282.3,542.7 L1283.7,543.1 L1285.1,543.0 L1286.5,543.1 L1287.9,542.8 L1289.3,543.0 L1290.8,542.6 L1292.2,543.0 L1293.6,542.6 L1295.0,543.0 L1296.4,542.7 L1297.8,542.9 L1299.2,543.0 L1300.6,542.8 L1302.0,543.1 L1303.4,543.1 L1304.8,542.7 L1306.2,543.1 L1307.6,542.7 L1309.0,542.9 L1310.4,543.2 L1311.8,542.8 L1313.2,543.1 L1314.6,542.8 L1316.0,542.6 L1317.5,542.7 L1318.9,542.9 L1320.3,542.9 L1321.7,542.6 L1323.1,542.8 L1324.5,542.8 L1325.9,543.1 L1327.3,543.2 L1328.7,542.9 L1330.1,543.0 L1331.5,543.2 L1332.9,543.3 L1334.3,543.0 L1335.7,543.2 L1337.1,542.9 L1338.5,543.1 L1339.9,542.9 L1341.3,543.0 L1342.8,542.8 L1344.2,543.1 L1345.6,542.8 L1347.0,542.9 L1348.4,543.1 L1349.8,542.9 L1351.2,543.1 L1352.6,542.8 L1354.0,543.2 L1355.4,542.9 L1356.8,543.1 L1358.2,542.9 L1359.6,543.2 L1361.0,542.7 L1362.4,542.7 L1363.8,542.7 L1365.2,542.8 L1366.6,543.1 L1368.0,542.7 L1369.5,542.6 L1370.9,543.0 L1372.3,543.0 L1373.7,542.9 L1375.1,542.8 L1376.5,542.7 L1377.9,542.9 L1379.3,542.8 L1380.7,542.8 L1382.1,542.6 L1383.5,542.9 L1384.9,542.6 L1386.3,542.8 L1387.7,542.6 L1389.1,543.1 L1390.5,542.9 L1391.9,542.6 L1393.3,542.9 L1394.7,542.9 L1396.2,542.5 L1397.6,542.5 L1399.0,542.5 L1400.4,542.9 L1401.8,542.6 L1403.2,542.5 L1404.6,543.0 L1406.0,542.6 L1407.4,542.8 L1408.8,542.9" fill="none" stroke="#000000" stroke-width="3" stroke-linejoin="round"/>
<path d="M878.9,817.8 L880.2,813.9 L881.5,804.0 L882.8,809.0 L884.1,804.5 L885.4,809.6 L886.7,806.2 L888.1,807.0 L889.4,809.1 L890.7,810.8 L892.0,806.6 L893.3,808.5 L894.6,803.0 L895.9,804.7 L897.2,800.0 L898.5,795.7 L899.8,799.2 L901.1,793.8 L902.4,796.2 L903.7,794.7 L905.0,790.8 L906.3,792.3 L907.6,786.9 L908.9,790.5 L910.2,785.8 L911.5,788.4 L912.8,783.1 L914.1,787.9 L915.4,783.8 L916.7,782.4 L918.0,782.8 L919.3,783.3 L920.6,785.2 L921.9,780.6 L923.4,776.4 L924.9,779.0 L926.4,771.3 L927.8,771.1 L929.3,772.3 L930.8,766.9 L932.3,767.8 L933.6,763.1 L934.9,766.4 L936.2,762.6 L937.5,760.6 L938.8,760.5 L940.1,758.0 L941.4,759.8 L942.7,755.7 L944.0,754.0 L945.3,759.5 L946.6,754.8 L947.9,752.5 L949.2,756.5 L950.5,756.0 L951.8,752.9 L953.1,753.7 L954.4,750.9 L955.7,750.6 L957.0,751.7 L958.4,747.4 L959.7,749.4 L961.0,746.6 L962.3,747.5 L963.6,744.5 L964.9,747.1 L966.2,743.3 L967.6,740.6 L969.0,739.7 L970.5,740.8 L971.9,737.5 L973.3,735.7 L974.7,734.9 L976.1,731.5 L977.5,730.2 L979.0,728.2 L980.4,726.2 L981.8,727.3 L983.1,726.9 L984.4,724.3 L985.7,725.2 L987.0,724.9 L988.3,725.1 L989.6,722.4 L990.9,725.6 L992.2,722.5 L993.5,724.8 L994.8,721.3 L996.1,723.4 L997.4,721.0 L998.7,720.2 L1000.0,722.7 L1001.3,718.2 L1002.6,717.0 L1003.9,717.3 L1005.2,713.7 L1006.5,712.5 L1007.8,710.6 L1009.1,712.4 L1010.5,708.6 L1011.8,709.4 L1013.1,706.9 L1014.4,707.8 L1015.7,703.4 L1017.0,704.2 L1018.3,704.7 L1019.6,702.7 L1020.9,700.1 L1022.2,701.8 L1023.5,700.8 L1024.8,697.1 L1026.1,699.0 L1027.4,695.7 L1028.7,694.7 L1030.0,693.2 L1031.3,695.1 L1032.6,692.4 L1033.9,693.0 L1035.5,694.4 L1037.0,693.2 L1038.6,696.1 L1040.1,695.3 L1041.7,697.6 L1043.1,696.1 L1044.4,692.7 L1045.8,693.3 L1047.1,691.9 L1048.5,689.0 L1049.8,689.3 L1051.2,687.5 L1052.5,685.6 L1053.9,687.6 L1055.2,684.6 L1056.6,686.1 L1057.9,684.1 L1059.3,682.5 L1060.6,681.5 L1062.0,677.9 L1063.4,679.4 L1064.8,677.7 L1066.1,677.6 L1067.5,673.7 L1068.9,674.0 L1070.3,674.8 L1071.7,672.6 L1073.0,673.1 L1074.4,671.3 L1075.8,673.8 L1077.2,673.0 L1078.6,671.7 L1079.9,670.9 L1081.3,667.3 L1082.7,667.3 L1084.0,669.2 L1085.3,668.1 L1086.6,669.5 L1088.0,666.7 L1089.3,670.2 L1090.6,668.6 L1091.9,668.2 L1093.2,668.4 L1094.5,671.5 L1095.8,671.5 L1097.2,669.4 L1098.5,671.5 L1099.8,669.6 L1101.1,670.1 L1102.5,671.7 L1103.8,670.5 L1105.2,670.5 L1106.5,673.5 L1107.9,672.1 L1109.2,673.0 L1110.6,672.2 L1112.0,674.5 L1113.3,673.0 L1114.7,675.2 L1116.0,673.0 L1117.4,674.6 L1118.9,674.2 L1120.3,675.0 L1121.8,673.5 L1123.2,674.5 L1124.7,674.2 L1126.1,671.3 L1127.6,672.6 L1129.1,672.6 L1130.5,674.6 L1132.0,673.0 L1133.4,674.1 L1134.9,674.2 L1136.3,674.2 L1137.8,677.2 L1139.2,674.5 L1140.7,675.9 L1142.1,672.8 L1143.5,674.6 L1144.9,670.9 L1146.4,673.2 L1147.8,671.1 L1149.2,671.6 L1150.7,672.0 L1152.1,668.8 L1153.5,671.8 L1154.8,671.4 L1156.2,670.9 L1157.6,668.8 L1158.9,671.6 L1160.3,673.1 L1161.7,670.8 L1163.0,673.3 L1164.4,671.2 L1165.8,672.4 L1167.1,672.3 L1168.5,674.4 L1169.9,674.2 L1171.2,671.7 L1172.6,672.9 L1174.0,672.7 L1175.3,671.2 L1176.7,673.6 L1178.0,671.2 L1179.4,673.6 L1180.8,668.6 L1182.1,672.2 L1183.5,668.3 L1184.8,669.9 L1186.2,669.5 L1187.6,671.1 L1188.9,671.0 L1190.3,668.7 L1191.6,667.5 L1193.0,665.4 L1194.4,668.3 L1195.7,668.5 L1197.1,667.0 L1198.4,668.5 L1199.8,666.8 L1201.2,669.3 L1202.5,667.9 L1203.9,669.9 L1205.2,668.3 L1206.6,668.5 L1208.0,669.5 L1209.3,670.6 L1210.7,671.5 L1212.0,672.2 L1213.4,670.9 L1214.8,671.6 L1216.1,669.3 L1217.5,670.9 L1218.9,669.3 L1220.2,668.0 L1221.6,667.5 L1223.0,669.7 L1224.3,669.8 L1225.7,670.2 L1227.1,671.0 L1228.4,667.9 L1229.8,666.8 L1231.2,668.5 L1232.5,668.4 L1233.9,665.3 L1235.3,668.8 L1236.7,666.8 L1238.0,669.6 L1239.4,667.9 L1240.8,670.0 L1242.2,667.8 L1243.5,671.8 L1244.9,670.1 L1246.3,673.0 L1247.7,672.7 L1249.0,670.1 L1250.4,671.4 L1251.7,669.8 L1253.1,672.0 L1254.4,669.2 L1255.7,672.6 L1257.1,671.4 L1258.4,671.4 L1259.7,669.2 L1261.1,672.1 L1262.4,670.2 L1263.7,670.7 L1265.1,672.4 L1266.4,672.6 L1267.8,669.7 L1269.1,668.7 L1270.4,670.3 L1271.8,669.2 L1273.1,669.8 L1274.4,669.7 L1275.8,668.2 L1277.1,667.8 L1278.4,666.7 L1279.8,668.3 L1281.1,666.1 L1282.5,669.8 L1283.8,668.5 L1285.2,670.8 L1286.5,671.1 L1287.9,669.6 L1289.3,670.2 L1290.6,674.3 L1292.0,671.6 L1293.3,672.4 L1294.7,674.3 L1296.1,673.7 L1297.4,673.6 L1298.8,677.5 L1300.1,678.2 L1301.5,677.2 L1302.9,674.7 L1304.2,677.6 L1305.6,675.8 L1306.9,678.5 L1308.3,677.8 L1309.7,675.2 L1311.0,677.0 L1312.4,677.6 L1313.7,678.3 L1315.1,675.9 L1316.5,678.5 L1317.8,678.4 L1319.2,678.9 L1320.5,676.2 L1321.9,675.9 L1323.2,677.6 L1324.6,675.5 L1325.9,678.0 L1327.2,675.8 L1328.6,677.3 L1329.9,674.6 L1331.2,677.9 L1332.6,675.0 L1333.9,678.1 L1335.2,677.6 L1336.6,675.6 L1337.9,675.9 L1339.3,678.8 L1340.6,676.4 L1341.9,677.1 L1343.3,675.6 L1344.6,675.7 L1345.9,678.3 L1347.3,675.9 L1348.6,678.3 L1349.9,676.0 L1351.3,676.8 L1352.6,678.9 L1354.0,678.3 L1355.3,676.7 L1356.7,678.0 L1358.0,675.2 L1359.4,678.0 L1360.8,677.8 L1362.1,677.5 L1363.5,676.6 L1364.8,675.8 L1366.2,674.1 L1367.6,676.0 L1368.9,673.8 L1370.3,675.3 L1371.6,672.5 L1373.0,676.0 L1374.4,672.2 L1375.7,675.7 L1377.1,676.2 L1378.4,673.8 L1379.8,676.3 L1381.2,675.1 L1382.5,676.0 L1383.9,674.2 L1385.2,675.3 L1386.6,677.2 L1388.0,676.0 L1389.3,674.8 L1390.7,676.9 L1392.0,674.5 L1393.4,674.7 L1394.8,677.4 L1396.1,678.0 L1397.5,674.2 L1398.8,677.3 L1400.2,674.7 L1401.6,677.7 L1402.9,674.9 L1404.3,675.3 L1405.7,677.2 L1407.0,676.7 L1408.4,674.8 L1409.7,678.5 L1411.1,677.6 L1412.5,675.4 L1413.8,678.6 L1415.2,674.6 L1416.5,676.2 L1417.9,678.3" fill="none" stroke="#ff0000" stroke-width="2.6" stroke-dasharray="7,1.6" stroke-linejoin="round"/>
<path d="M880.2,795.7 L881.5,788.5 L882.9,787.4 L884.3,784.4 L885.7,781.8 L887.1,785.2 L888.5,786.4 L889.9,786.2 L891.3,780.4 L892.7,783.9 L894.1,777.0 L895.5,778.2 L897.0,777.6 L898.6,768.1 L900.1,770.3 L901.7,765.2 L903.2,766.3 L904.6,762.4 L906.0,764.9 L907.5,760.3 L908.9,759.1 L910.3,761.9 L911.7,759.2 L913.2,760.6 L914.6,754.8 L916.0,758.3 L917.4,751.9 L918.8,755.8 L920.3,746.8 L921.7,747.6 L923.1,742.8 L924.5,744.8 L926.0,736.6 L927.4,736.4 L928.8,734.3 L930.2,736.5 L931.6,730.5 L932.9,733.8 L934.3,726.3 L935.7,728.6 L937.1,729.5 L938.5,723.1 L939.9,726.3 L941.2,721.3 L942.6,723.4 L944.0,718.4 L945.4,717.6 L946.8,718.6 L948.2,712.8 L949.6,711.3 L951.0,712.0 L952.4,706.5 L953.8,701.4 L955.2,705.5 L956.6,699.2 L958.0,702.1 L959.4,700.4 L960.8,694.8 L962.2,693.3 L963.7,687.3 L965.1,686.0 L966.5,679.6 L967.9,679.6 L969.4,676.3 L970.8,670.9 L972.2,670.0 L973.6,669.8 L975.0,667.9 L976.4,665.7 L977.8,661.5 L979.2,660.9 L980.5,662.5 L981.9,658.5 L983.3,659.7 L984.7,657.5 L986.1,657.5 L987.5,652.1 L988.9,653.2 L990.3,649.3 L991.6,651.3 L993.0,647.4 L994.4,645.8 L995.8,646.2 L997.1,642.0 L998.5,641.3 L999.9,639.9 L1001.3,639.0 L1002.6,639.9 L1004.0,636.0 L1005.4,635.3 L1006.8,630.8 L1008.2,626.0 L1009.7,622.3 L1011.1,618.7 L1012.4,619.6 L1013.7,615.3 L1015.0,617.1 L1016.3,613.0 L1017.6,612.8 L1018.9,613.7 L1020.2,613.1 L1021.5,609.0 L1022.8,610.9 L1024.1,606.6 L1025.4,608.8 L1026.8,603.6 L1028.1,605.4 L1029.5,601.7 L1030.9,603.5 L1032.2,603.3 L1033.6,600.6 L1035.0,601.1 L1036.3,599.1 L1037.7,600.4 L1039.1,598.4 L1040.4,595.4 L1041.8,593.0 L1043.2,593.0 L1044.7,593.6 L1046.1,590.3 L1047.5,591.5 L1048.9,587.7 L1050.4,588.5 L1051.8,588.8 L1053.2,589.4 L1054.7,589.7 L1056.1,586.1 L1057.6,587.9 L1059.0,586.0 L1060.5,586.4 L1061.9,588.4 L1063.4,586.7 L1064.8,589.1 L1066.3,588.0 L1067.7,584.7 L1069.2,583.9 L1070.6,586.5 L1072.0,582.6 L1073.4,585.0 L1074.9,582.0 L1076.3,583.1 L1077.7,582.8 L1079.2,581.8 L1080.6,580.7 L1082.1,578.6 L1083.5,582.0 L1085.0,582.3 L1086.5,582.4 L1088.0,581.8 L1089.4,583.9 L1090.9,582.2 L1092.3,582.7 L1093.6,579.2 L1095.0,581.8 L1096.3,579.5 L1097.7,579.5 L1099.1,578.4 L1100.4,579.8 L1101.8,578.7 L1103.1,575.9 L1104.5,579.2 L1105.9,575.7 L1107.2,577.5 L1108.6,573.9 L1109.9,575.7 L1111.3,573.1 L1112.7,574.5 L1114.0,573.3 L1115.4,572.8 L1116.7,576.7 L1118.1,574.5 L1119.5,576.5 L1120.8,576.1 L1122.2,573.1 L1123.5,575.2 L1124.9,573.4 L1126.3,575.4 L1127.6,572.8 L1129.0,575.3 L1130.3,574.3 L1131.7,577.4 L1133.1,574.1 L1134.4,576.1 L1135.8,574.1 L1137.1,575.1 L1138.5,577.2 L1139.9,574.0 L1141.2,573.3 L1142.6,572.7 L1143.9,575.9 L1145.3,575.8 L1146.7,576.6 L1148.0,575.1 L1149.4,577.2 L1150.7,574.9 L1152.1,578.0 L1153.5,574.8 L1154.8,578.6 L1156.2,576.4 L1157.6,578.9 L1158.9,578.1 L1160.3,576.9 L1161.7,577.3 L1163.0,577.2 L1164.4,579.9 L1165.8,580.1 L1167.1,578.2 L1168.5,582.2 L1169.9,578.9 L1171.2,579.3 L1172.6,580.4 L1174.1,577.6 L1175.5,579.5 L1177.0,578.9 L1178.4,575.0 L1179.9,577.0 L1181.3,573.7 L1182.8,574.2 L1184.2,573.1 L1185.5,574.4 L1186.9,571.8 L1188.2,572.4 L1189.6,569.6 L1191.0,571.8 L1192.3,570.1 L1193.7,573.9 L1195.0,570.6 L1196.4,571.7 L1197.8,570.6 L1199.1,572.6 L1200.5,571.8 L1201.8,573.6 L1203.2,573.4 L1204.6,571.6 L1205.9,570.3 L1207.3,573.0 L1208.6,570.5 L1210.0,572.2 L1211.4,569.6 L1212.7,572.2 L1214.1,569.4 L1215.4,571.2 L1216.8,569.2 L1218.2,570.1 L1219.5,568.6 L1220.9,570.5 L1222.2,568.6 L1223.6,569.6 L1224.9,566.6 L1226.3,569.2 L1227.6,566.8 L1228.9,569.4 L1230.3,568.0 L1231.6,565.4 L1232.9,566.0 L1234.3,567.5 L1235.6,567.8 L1237.0,566.0 L1238.3,564.2 L1239.6,567.3 L1241.0,566.2 L1242.3,567.6 L1243.6,568.2 L1245.0,568.2 L1246.3,565.8 L1247.7,568.9 L1249.2,566.5 L1250.6,568.1 L1252.0,568.4 L1253.4,571.2 L1254.9,568.8 L1256.3,570.8 L1257.7,569.2 L1259.2,569.0 L1260.6,571.6 L1262.1,569.3 L1263.5,570.4 L1265.0,567.0 L1266.5,566.8 L1268.0,563.1 L1269.4,566.2 L1270.9,563.5 L1272.3,566.1 L1273.6,565.3 L1275.0,564.8 L1276.3,563.7 L1277.7,562.1 L1279.1,563.5 L1280.4,561.5 L1281.8,564.3 L1283.2,562.0 L1284.5,564.4 L1285.9,561.0 L1287.2,564.6 L1288.6,560.9 L1290.0,561.1 L1291.3,560.1 L1292.7,564.0 L1294.1,561.0 L1295.4,561.2 L1296.8,563.4 L1298.1,559.8 L1299.5,559.6 L1300.9,562.6 L1302.2,560.9 L1303.6,564.0 L1304.9,562.6 L1306.3,563.6 L1307.6,566.4 L1309.0,565.0 L1310.3,568.8 L1311.7,566.8 L1313.1,569.1 L1314.4,566.5 L1315.8,568.9 L1317.1,568.7 L1318.5,567.3 L1319.9,571.1 L1321.2,570.4 L1322.6,568.4 L1323.9,570.3 L1325.3,567.7 L1326.7,570.8 L1328.0,569.5 L1329.4,572.8 L1330.7,571.0 L1332.1,572.0 L1333.4,568.9 L1334.7,570.2 L1336.0,568.3 L1337.3,571.5 L1338.6,568.5 L1339.9,568.4 L1341.2,569.2 L1342.5,567.8 L1343.8,567.7 L1345.1,571.6 L1346.4,567.9 L1347.8,571.2 L1349.3,571.7 L1350.7,570.0 L1352.1,571.0 L1353.6,570.3 L1355.0,571.8 L1356.4,574.8 L1357.8,574.0 L1359.3,572.4 L1360.7,575.6 L1362.1,573.7 L1363.4,574.5 L1364.8,571.8 L1366.2,574.0 L1367.5,570.9 L1368.9,572.5 L1370.3,573.7 L1371.6,571.6 L1373.0,568.8 L1374.4,571.9 L1375.9,571.5 L1377.3,570.8 L1378.7,574.2 L1380.2,571.6 L1381.6,575.6 L1383.0,573.9 L1384.4,575.5 L1385.9,574.3 L1387.3,579.0 L1388.8,577.0 L1390.2,574.8 L1391.7,575.6 L1393.1,572.1 L1394.6,575.4 L1396.0,571.2 L1397.5,571.4 L1398.9,575.6 L1400.2,575.5 L1401.6,574.6 L1403.0,580.0 L1404.3,578.3 L1405.7,582.7 L1407.1,579.9 L1408.4,580.3 L1409.8,579.6 L1411.2,576.2 L1412.5,577.6 L1413.9,572.3 L1415.4,575.0 L1417.0,571.4 L1418.5,571.1 L1420.0,569.0" fill="none" stroke="#0000ff" stroke-width="2.7" stroke-dasharray="3.5,1.8" stroke-linejoin="round"/>
<path d="M880.2,858.5 L882.8,834.0 L884.3,838.1 L885.7,832.7 L887.2,834.6 L888.6,836.0 L890.1,828.8 L891.5,827.3 L893.0,822.8 L894.5,828.2 L895.9,820.6 L897.4,824.3 L898.8,828.2 L900.3,823.3 L901.7,822.0 L903.2,821.8 L904.7,824.2 L906.1,821.8 L907.6,815.5 L909.0,813.8 L910.5,810.5 L911.9,812.7 L913.4,810.2 L914.9,805.6 L916.3,809.3 L917.8,804.7 L919.2,802.2 L920.7,807.6 L922.1,805.5 L923.6,798.7 L925.1,799.0 L926.5,800.5 L928.0,796.3 L929.5,799.6 L931.0,793.5 L932.4,795.7 L933.9,792.8 L935.3,787.5 L936.8,787.1 L938.2,790.6 L939.7,786.8 L941.1,790.6 L942.6,781.6 L944.0,783.0 L945.3,774.8 L946.6,771.0 L947.9,770.7 L949.2,764.7 L950.9,771.8 L952.6,773.4 L954.3,772.1 L955.7,772.9 L957.1,764.3 L958.5,765.5 L959.9,757.2 L961.4,757.8 L962.8,755.6 L964.2,757.2 L965.6,752.0 L967.0,749.5 L968.5,751.9 L969.9,746.7 L971.4,747.9 L972.9,746.3 L974.4,748.1 L975.8,743.6 L977.3,745.7 L978.7,740.0 L980.1,743.2 L981.5,738.8 L982.9,741.6 L984.3,734.8 L985.6,732.8 L987.0,733.1 L988.4,733.9 L989.8,732.8 L991.2,727.4 L992.6,726.3 L993.9,722.2 L995.3,725.5 L996.6,721.5 L998.0,719.6 L999.3,720.6 L1000.6,714.8 L1002.0,712.8 L1003.3,713.0 L1004.6,708.1 L1006.0,705.3 L1007.3,707.2 L1008.7,702.7 L1010.0,704.0 L1011.4,697.9 L1012.8,698.4 L1014.1,693.5 L1015.5,689.8 L1016.9,690.8 L1018.3,687.2 L1019.7,686.9 L1021.1,687.1 L1022.5,681.8 L1023.8,681.2 L1025.2,687.4 L1026.6,685.1 L1028.0,683.1 L1029.4,683.4 L1030.8,682.6 L1032.2,679.2 L1033.6,681.5 L1034.9,681.2 L1036.3,680.3 L1037.7,676.9 L1039.1,680.4 L1040.4,679.3 L1041.8,675.3 L1043.1,680.0 L1044.5,677.8 L1045.8,673.9 L1047.2,676.0 L1048.5,673.8 L1049.9,677.5 L1051.2,674.1 L1052.6,672.5 L1053.9,676.4 L1055.3,678.1 L1056.6,672.6 L1058.0,673.6 L1059.3,675.3 L1060.7,672.5 L1062.0,675.2 L1063.4,672.7 L1064.8,676.5 L1066.2,674.6 L1067.6,678.1 L1069.0,674.9 L1070.4,676.7 L1071.8,674.0 L1073.1,679.0 L1074.5,672.7 L1075.9,677.4 L1077.2,673.7 L1078.6,673.4 L1080.0,675.1 L1081.3,670.4 L1082.7,671.7 L1084.1,672.9 L1085.4,669.6 L1086.8,671.8 L1088.2,668.9 L1089.5,666.7 L1090.9,668.6 L1092.3,673.1 L1093.6,669.4 L1095.0,670.4 L1096.3,671.9 L1097.7,671.0 L1099.1,669.0 L1100.4,667.1 L1101.8,666.6 L1103.1,670.0 L1104.5,670.0 L1105.9,669.7 L1107.2,670.3 L1108.6,667.4 L1109.9,666.8 L1111.3,669.6 L1112.7,665.6 L1114.2,668.3 L1115.6,663.0 L1117.0,664.8 L1118.4,664.2 L1119.9,662.1 L1121.3,657.8 L1122.7,660.8 L1124.2,659.5 L1125.6,661.6 L1127.0,664.1 L1128.3,664.6 L1129.7,662.0 L1131.0,667.9 L1132.4,665.4 L1133.8,665.6 L1135.1,669.2 L1136.5,665.6 L1137.8,670.5 L1139.2,668.1 L1140.5,671.7 L1141.9,669.5 L1143.3,672.7 L1144.6,670.0 L1146.0,671.2 L1147.4,668.9 L1148.7,668.1 L1150.1,672.1 L1151.5,669.9 L1152.8,672.6 L1154.2,669.8 L1155.6,668.9 L1156.9,668.0 L1158.3,673.7 L1159.7,673.1 L1161.0,669.4 L1162.4,674.2 L1163.7,672.3 L1165.1,675.0 L1166.4,682.2 L1167.8,679.4 L1169.3,681.5 L1170.7,676.9 L1172.1,679.1 L1173.6,680.4 L1175.0,679.7 L1176.4,678.3 L1177.8,677.5 L1179.3,673.1 L1180.7,672.2 L1182.1,675.9 L1183.4,673.7 L1184.8,675.5 L1186.2,672.8 L1187.5,668.1 L1188.9,667.2 L1190.3,669.1 L1191.6,665.3 L1193.0,664.0 L1194.4,664.3 L1195.7,662.2 L1197.1,659.2 L1198.5,664.2 L1199.8,661.3 L1201.2,665.4 L1202.5,666.0 L1203.9,661.4 L1205.2,666.3 L1206.6,662.8 L1208.0,665.4 L1209.3,668.6 L1210.7,669.5 L1212.0,665.5 L1213.4,669.7 L1214.8,666.4 L1216.1,668.0 L1217.5,667.9 L1218.9,666.5 L1220.2,665.4 L1221.6,666.3 L1223.0,665.0 L1224.3,660.8 L1225.7,660.6 L1227.1,658.5 L1228.4,661.9 L1229.8,657.9 L1231.2,662.0 L1232.5,661.8 L1233.9,659.2 L1235.2,660.7 L1236.6,658.7 L1237.9,661.8 L1239.2,661.4 L1240.6,665.5 L1241.9,666.9 L1243.2,666.9 L1244.6,664.8 L1245.9,670.0 L1247.2,669.2 L1248.6,664.6 L1249.9,669.0 L1251.3,667.0 L1252.6,668.0 L1253.9,671.8 L1255.3,673.3 L1256.6,668.9 L1257.9,672.1 L1259.3,674.5 L1260.6,671.7 L1261.9,673.7 L1263.2,673.0 L1264.5,672.3 L1265.8,670.4 L1267.1,667.5 L1268.4,670.5 L1269.7,666.0 L1271.0,669.3 L1272.3,664.3 L1273.6,668.6 L1274.9,664.2 L1276.4,665.9 L1277.8,671.5 L1279.3,671.9 L1280.8,671.2 L1282.3,676.4 L1283.7,675.9 L1285.2,678.9 L1286.6,679.2 L1287.9,678.8 L1289.3,681.3 L1290.6,677.3 L1292.0,679.6 L1293.3,676.1 L1294.7,674.6 L1296.1,677.7 L1297.4,673.8 L1298.8,673.8 L1300.1,674.2 L1301.5,670.2 L1302.8,675.8 L1304.1,673.4 L1305.4,672.5 L1306.8,677.7 L1308.1,675.6 L1309.4,679.8 L1310.7,681.9 L1312.0,677.6 L1313.3,681.9 L1314.6,679.3 L1316.0,683.2 L1317.3,681.4 L1318.6,687.7 L1319.9,686.6 L1321.3,685.5 L1322.6,686.3 L1324.0,679.5 L1325.3,679.8 L1326.7,679.3 L1328.0,678.8 L1329.4,671.5 L1330.7,673.2 L1332.1,667.8 L1333.5,672.1 L1334.8,670.4 L1336.2,674.1 L1337.6,673.2 L1338.9,673.5 L1340.3,678.2 L1341.7,680.1 L1343.0,679.5 L1344.4,677.5 L1345.8,679.8 L1347.1,675.3 L1348.5,675.8 L1349.9,677.1 L1351.2,680.1 L1352.6,677.5 L1354.0,680.8 L1355.3,678.0 L1356.7,679.9 L1358.1,681.6 L1359.4,674.6 L1360.8,676.9 L1362.1,669.9 L1363.5,672.6 L1364.8,668.8 L1366.2,669.9 L1367.5,667.8 L1368.9,667.9 L1370.3,667.8 L1371.6,667.6 L1373.0,673.0 L1374.4,672.0 L1375.7,670.9 L1377.1,669.0 L1378.5,675.2 L1379.8,673.3 L1381.2,671.9 L1382.6,673.4 L1383.9,675.0 L1385.3,672.0 L1386.6,674.4 L1387.9,670.7 L1389.2,670.5 L1390.5,674.6 L1391.8,672.4 L1393.1,676.5 L1394.4,672.3 L1395.8,674.5 L1397.1,672.0 L1398.4,673.4 L1399.7,676.6 L1401.0,675.3 L1402.3,670.6 L1403.6,674.4 L1404.9,671.1 L1406.2,672.0 L1407.5,674.9 L1408.8,675.2 L1410.1,674.3 L1411.4,678.2 L1412.7,675.6 L1414.0,678.8 L1415.3,675.7 L1416.6,681.4 L1417.9,681.4" fill="none" stroke="#737600" stroke-width="2.8" stroke-dasharray="6,2.2,2.2,2.2" stroke-linejoin="round"/>
</g>
</svg></body></html>
